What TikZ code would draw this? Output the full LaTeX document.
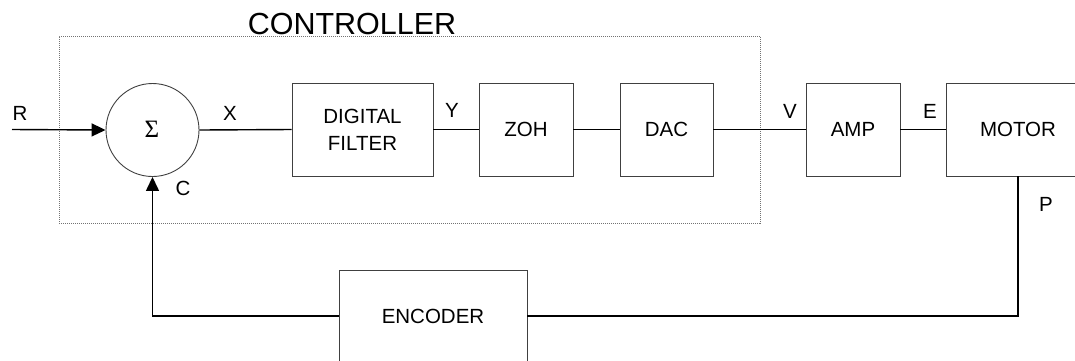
\documentclass[tikz,border=0pt]{standalone}
\usepackage{fontspec}
\setmainfont{Liberation Sans}
\newfontfamily\sigmafont{Liberation Serif}
\usetikzlibrary{arrows.meta}
\begin{document}
\begin{tikzpicture}[x=1pt,y=-1pt,
  blk/.style={draw=black!75,line width=0.9pt,inner sep=0pt,minimum height=93pt,
    align=center,font=\fontsize{20.5}{27}\selectfont},
  lbl/.style={inner sep=0pt,font=\fontsize{20.5}{24}\selectfont},
  wire/.style={line width=1.4pt,black},
  arr/.style={wire,-{Triangle[length=14pt,width=13pt]}}]
\useasboundingbox (0,0) rectangle (1075,360);
% controller frame
\node[draw=black!55,densely dotted,line width=1pt,minimum width=701pt,minimum height=187pt,inner sep=0pt] (ctrl) at (409.5,129.5) {};
\node[lbl,font=\fontsize{30.5}{34}\selectfont] (ctrltxt) at (352,24) {CONTROLLER};
% summing junction
\node[draw=black!75,line width=0.9pt,circle,minimum size=93pt,inner sep=0pt] (sum) at (152.5,130) {};
\node[inner sep=0pt,font=\sigmafont\fontsize{25}{28}\selectfont] (sig) at (152,129) {Σ};
% blocks
\node[blk,minimum width=141pt] (df) at (362.5,129.5) {DIGITAL\\FILTER};
\node[blk,minimum width=94pt] (zoh) at (526,129.5) {ZOH};
\node[blk,minimum width=93pt] (dac) at (666.5,129.5) {DAC};
\node[blk,minimum width=94pt] (amp) at (853,129.5) {AMP};
\node[blk,minimum width=144pt] (motor) at (1018,129.5) {MOTOR};
\node[blk,minimum width=188pt,minimum height=92pt] (enc) at (433,316) {ENCODER};
% connectors
\coordinate (rin) at (12,129.5);
\draw[arr] (rin) -- (sum.west);
\draw[wire] (sum.east) -- (df.west);
\draw[wire] (df.east) -- (zoh.west);
\draw[wire] (zoh.east) -- (dac.west);
\draw[wire] (dac.east) -- (amp.west);
\draw[wire] (amp.east) -- (motor.west);
\draw[wire] (motor.south) |- (enc.east);
\draw[arr] (enc.west) -| (sum.south);
% labels
\node[lbl] (lr) at (20,113) {R};
\node[lbl] (lx) at (230,113) {X};
\node[lbl] (ly) at (452,110) {Y};
\node[lbl] (lv) at (790,111) {V};
\node[lbl] (le) at (930,111) {E};
\node[lbl] (lp) at (1046,204) {P};
\node[lbl] (lc) at (183,188) {C};
\end{tikzpicture}
\end{document}
